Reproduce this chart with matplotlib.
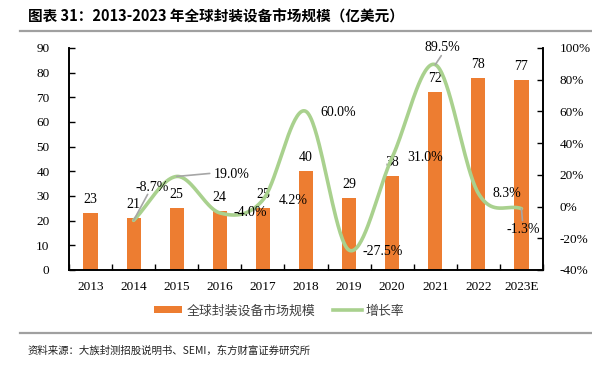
import matplotlib
matplotlib.use("Agg")
import matplotlib.pyplot as plt
import numpy as np
from matplotlib.lines import Line2D
from matplotlib.patches import Patch

plt.rcParams['font.family'] = ['Noto Sans CJK SC', 'DejaVu Sans']

years = ['2013', '2014', '2015', '2016', '2017', '2018', '2019', '2020', '2021', '2022', '2023E']
market = [23, 21, 25, 24, 25, 40, 29, 38, 72, 78, 77]
growth = [None, -8.7, 19.0, -4.0, 4.2, 60.0, -27.5, 31.0, 89.5, 8.3, -1.3]
growth_labels = ['', '-8.7%', '19.0%', '-4.0%', '4.2%', '60.0%', '-27.5%', '31.0%', '89.5%', '8.3%', '-1.3%']
left_ticks = [0, 10, 20, 30, 40, 50, 60, 70, 80, 90]
right_ticks = [-40, -20, 0, 20, 40, 60, 80, 100]

title = '图表 31：2013-2023 年全球封装设备市场规模（亿美元）'
source = '资料来源：大族封测招股说明书、SEMI，东方财富证券研究所'
legend_names = ['全球封装设备市场规模', '增长率']

BAR = '#ED7D31'
LINE = '#A9D18E'
serif = 'Liberation Serif'

W, H = 592, 366
fig = plt.figure(figsize=(W / 100, H / 100), dpi=100)
ax = fig.add_axes([69 / W, 1 - 270 / H, (543 - 69) / W, (270 - 48) / H])
ax2 = ax.twinx()

x = np.arange(len(years))
ax.bar(x, market, width=0.33, color=BAR, zorder=2)
ax.set_ylim(0, 90)
ax.set_xlim(-0.5, len(years) - 0.5)
ax.set_yticks(left_ticks)
ax.set_yticklabels([str(t) for t in left_ticks], fontfamily=serif, fontsize=9.5)
ax.set_xticks(x)
ax.set_xticklabels(years, fontfamily=serif, fontsize=9.5)
ax.tick_params(axis='x', length=0, pad=8)
ax.set_xticks(np.arange(-0.5, len(years) + 0.5, 1), minor=True)
ax.tick_params(axis='x', which='minor', direction='in', length=4, width=1)
ax.tick_params(axis='y', direction='in', length=4, width=1, pad=14)

for xi, v in zip(x, market):
    ax.annotate(str(v), (xi, v), xytext=(0, 7), textcoords='offset pixels',
                ha='center', va='bottom', fontfamily=serif, fontsize=10)

# smoothed growth curve (Catmull-Rom through data points)
gx = np.array([i for i, g in enumerate(growth) if g is not None], dtype=float)
gy = np.array([g for g in growth if g is not None], dtype=float)
P = np.column_stack([gx, gy])
Pe = np.vstack([P[0] + (P[0] - P[1]), P, P[-1] + (P[-1] - P[-2])])
cx, cy = [], []
for i in range(1, len(Pe) - 2):
    p0, p1, p2, p3 = Pe[i - 1], Pe[i], Pe[i + 1], Pe[i + 2]
    b1 = p1 + (p2 - p0) / 6
    b2 = p2 - (p3 - p1) / 6
    t = np.linspace(0, 1, 40)[:, None]
    seg = (1 - t) ** 3 * p1 + 3 * (1 - t) ** 2 * t * b1 + 3 * (1 - t) * t ** 2 * b2 + t ** 3 * p2
    cx.extend(seg[:, 0]); cy.extend(seg[:, 1])
ax2.plot(cx, cy, color=LINE, lw=2.6, zorder=3, solid_capstyle='round')
ax2.set_ylim(-40, 100)
ax2.set_yticks(right_ticks)
ax2.set_yticklabels([f'{t}%' for t in right_ticks], fontfamily=serif, fontsize=9.5)
ax2.tick_params(axis='y', direction='in', length=4, width=1, pad=12)

offsets = {1: (19, 33), 2: (55, 2), 3: (30, 0), 4: (30, -1), 5: (32, -1),
           6: (34, -1), 7: (33, 0), 8: (7, 17), 9: (29, 0), 10: (2, -21)}
leaders = {1: (14, 26), 2: (33, 3), 8: (6, 9), 10: (1, -12)}
for i, g in enumerate(growth):
    if g is None:
        continue
    dx, dy = offsets[i]
    ax2.annotate(growth_labels[i], (i, g), xytext=(dx, dy), textcoords='offset pixels',
                 ha='center', va='center', fontfamily=serif, fontsize=10, zorder=5)
    if leaders.get(i):
        lx, ly = leaders[i]
        ax2.annotate('', (i, g), xytext=(lx, ly), textcoords='offset pixels',
                     arrowprops=dict(arrowstyle='-', color='#A6A6A6', lw=1.2,
                                     shrinkA=0, shrinkB=0), zorder=4)

for a in (ax, ax2):
    a.spines['top'].set_visible(False)
    for s in ('left', 'right', 'bottom'):
        a.spines[s].set_linewidth(1.2)
        a.spines[s].set_color('black')

handles = [Patch(facecolor=BAR, edgecolor='none'), Line2D([0], [0], color=LINE, lw=2.6)]
fig.legend(handles, legend_names, loc='center', bbox_to_anchor=(279 / W, 1 - 311 / H),
           ncol=2, frameon=False, fontsize=9.3, handlelength=2.2, handleheight=0.45,
           columnspacing=1.4, handletextpad=0.3, labelcolor='#404040')

fig.text(28 / W, 1 - 17 / H, title, fontsize=10.5, fontweight='bold', va='center', ha='left')
fig.add_artist(Line2D([20 / W, 1], [1 - 31 / H, 1 - 31 / H], color='#A0A0A0', lw=1.6))
fig.add_artist(Line2D([20 / W, 1], [1 - 333 / H, 1 - 333 / H], color='#A0A0A0', lw=1.6))
fig.text(28 / W, 1 - 351 / H, source, fontsize=7.5, va='center', ha='left', color='#222222')

fig.savefig('out.png', dpi=100)
